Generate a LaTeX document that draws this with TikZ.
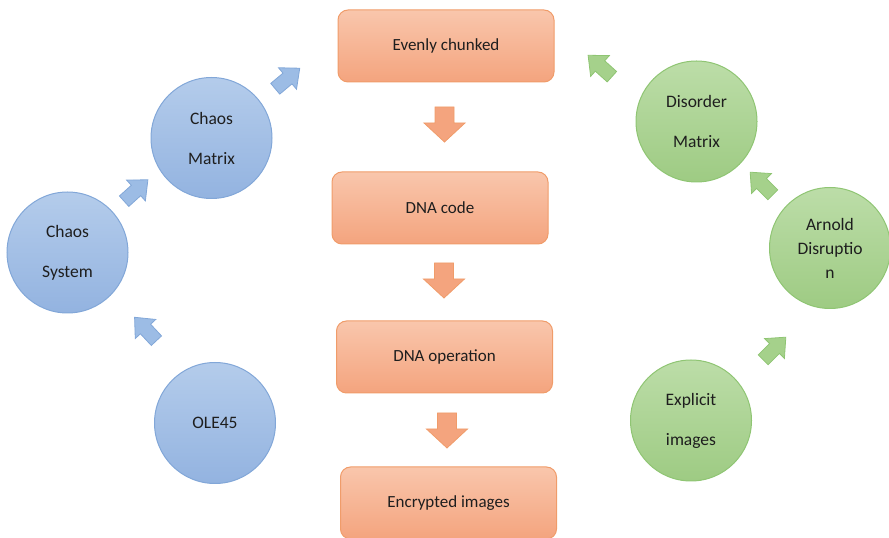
\documentclass[tikz,border=0pt]{standalone}
\usepackage{fontspec}
\setmainfont{Carlito}
\definecolor{boxtop}{HTML}{F9C6AC}
\definecolor{boxbot}{HTML}{F4A47E}
\definecolor{boxline}{HTML}{F09C6A}
\definecolor{bluetop}{HTML}{B4CCEB}
\definecolor{bluebot}{HTML}{93B3E0}
\definecolor{bluearr}{HTML}{9CBCE5}
\definecolor{blueline}{HTML}{82A7D8}
\definecolor{greentop}{HTML}{BCDDA8}
\definecolor{greenbot}{HTML}{9ECB83}
\definecolor{greenarr}{HTML}{A5D18B}
\definecolor{greenline}{HTML}{8FC573}
\definecolor{txt}{HTML}{1E1E1E}
\begin{document}
\begin{tikzpicture}[x=1pt,y=1pt,
  stepbox/.style={rectangle, rounded corners=10pt, minimum width=216pt, minimum height=72pt,
    top color=boxtop, bottom color=boxbot, draw=boxline, line width=1pt,
    text=txt, font=\fontsize{17}{20}\selectfont},
  bluecirc/.style={circle, minimum size=121pt, inner sep=0pt, top color=bluetop, bottom color=bluebot,
    draw=blueline, line width=1pt, text=txt, align=center, font=\fontsize{17.5}{40}\selectfont},
  greencirc/.style={circle, minimum size=121pt, inner sep=0pt, top color=greentop, bottom color=greenbot,
    draw=greenline, line width=1pt, text=txt, align=center, font=\fontsize{17.5}{40}\selectfont},
  orarrow/.style={fill=boxbot, draw=boxline, line width=0.8pt, line join=miter},
  bluearrow/.style={fill=bluearr, draw=blueline, line width=0.8pt},
  greenarrow/.style={fill=greenarr, draw=greenline, line width=0.8pt},
  bigarr/.pic={\path[pic actions] (0,-9.5)--(16,-9.5)--(16,-20.5)--(35,0)--(16,20.5)--(16,9.5)--(0,9.5)--cycle;},
  smallarr/.pic={\path[pic actions] (-16,-7)--(0,-7)--(0,-14)--(16,0)--(0,14)--(0,7)--(-16,7)--cycle;}
]
\useasboundingbox (0,0) rectangle (889,538);

% central column
\node[stepbox] (even) at (446,492) {Evenly chunked};
\node[stepbox] (dnacode) at (440,330) {DNA code};
\node[stepbox] (dnaop) at (444.5,181) {DNA operation};
\node[stepbox] (enc) at (448.5,35) {Encrypted images};

\pic[orarrow, rotate=-90] (d1) at (444.5,431) {bigarr};
\pic[orarrow, rotate=-90] (d2) at (444,275) {bigarr};
\pic[orarrow, rotate=-90] (d3) at (447,125) {bigarr};

% left (blue)
\node[bluecirc] (cs) at (67.5,285.5) {Chaos\\System};
\node[bluecirc] (cm) at (211.5,400) {Chaos\\Matrix};
\node[bluecirc] (ole) at (215,115) {OLE45};

\pic[bluearrow, rotate=133] (b1) at (145.5,209) {smallarr};
\pic[bluearrow, rotate=42] (b2) at (136,347.5) {smallarr};
\pic[bluearrow, rotate=40] (b3) at (287.5,459.5) {smallarr};

% right (green)
\node[greencirc] (dm) at (696.5,416.5) {Disorder\\Matrix};
\node[greencirc, font=\fontsize{17.5}{24}\selectfont] (ad) at (830,290) {Arnold\\Disruptio\\n};
\node[greencirc] (ei) at (691,117.5) {Explicit\\images};

\pic[greenarrow, rotate=45] (g1) at (774.5,189.5) {smallarr};
\pic[greenarrow, rotate=135] (g2) at (761.5,354.5) {smallarr};
\pic[greenarrow, rotate=138] (g3) at (600,472) {smallarr};
\end{tikzpicture}
\end{document}
